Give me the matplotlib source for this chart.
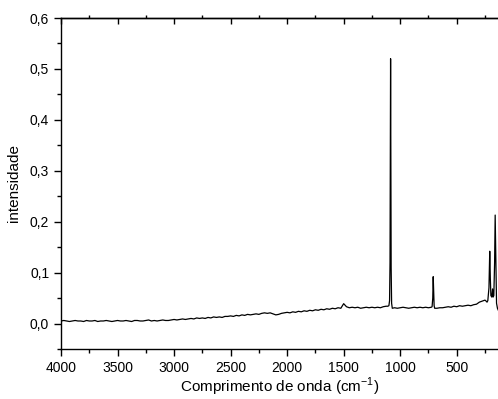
import matplotlib
matplotlib.use('Agg')
import matplotlib.pyplot as plt
import numpy as np
from matplotlib.ticker import MultipleLocator, FuncFormatter

# baseline, in 1e-3 intensity units, 25 cm-1 steps
BASE_A = [5, 6, 5, 4, 5, 6, 5, 5, 4, 6, 5, 5, 6, 4, 5, 5, 6, 5, 4, 5]            # 4000 -> 3525
BASE_B = [6, 5, 5, 6, 5, 4, 6, 6, 5, 5, 6, 7, 5, 6, 5, 6, 7, 6, 6, 7]            # 3500 -> 3025
BASE_C = [8, 7, 8, 9, 8, 9, 10, 9, 11, 10, 11, 10, 12, 11, 13, 12, 13, 12, 14, 14]  # 3000 -> 2525
BASE_D = [15, 14, 16, 15, 17, 16, 18, 17, 18, 19, 18, 20, 21, 20, 21, 19, 17, 18, 20, 21]  # 2500 -> 2025
BASE_E = [22, 21, 23, 22, 24, 23, 25, 24, 26, 25, 27, 26, 28, 27, 29, 28, 30, 29, 31, 30]  # 2000 -> 1525
BASE_F = [39, 33, 31, 32, 31, 32, 30, 31, 32, 31, 32, 31, 32, 31, 33, 34]        # 1500 -> 1125
PEAK1_W = [1110, 1100, 1094, 1090, 1087, 1085, 1083, 1080, 1076, 1070]
PEAK1_I = [34, 35, 45, 120, 380, 520, 380, 110, 40, 30]
BASE_G = [31, 30, 31, 32, 31, 30, 31, 32, 31, 32, 31, 32, 31, 32]                # 1050 -> 725
PEAK2_W = [718, 712, 708, 704, 700, 695]
PEAK2_I = [33, 50, 92, 60, 35, 30]
BASE_H = [30, 31, 31, 32, 33, 32, 34, 33, 35, 34, 35, 36, 35, 37, 38, 42, 44]    # 675 -> 275
TAIL_W = [260, 250, 240, 232, 225, 215, 208, 203, 198, 190, 183, 178, 172, 165, 160, 155, 148, 140, 130]
TAIL_I = [45, 46, 44, 42, 45, 70, 142, 90, 55, 52, 68, 52, 55, 120, 213, 140, 40, 30, 25]


def build():
    w, y = [], []
    for start, vals in ((4000, BASE_A), (3500, BASE_B), (3000, BASE_C),
                        (2500, BASE_D), (2000, BASE_E), (1500, BASE_F)):
        w += list(start - 25 * np.arange(len(vals)))
        y += vals
    w += PEAK1_W; y += PEAK1_I
    w += list(1050 - 25 * np.arange(len(BASE_G))); y += BASE_G
    w += PEAK2_W; y += PEAK2_I
    w += list(675 - 25 * np.arange(len(BASE_H))); y += BASE_H
    w += TAIL_W; y += TAIL_I
    return np.array(w, float), np.array(y, float) / 1000


def main():
    plt.rcParams.update({'font.family': ['Liberation Sans', 'DejaVu Sans'],
                         'font.size': 10, 'mathtext.fontset': 'custom',
                         'mathtext.rm': 'Liberation Sans'})
    fig = plt.figure(figsize=(4.98, 3.99), dpi=100)
    ax = fig.add_axes([61 / 498, 1 - 349 / 399, 1 - 61 / 498, (349 - 18) / 399])
    w, y = build()
    ax.plot(w, y, color='black', lw=0.9)

    ax.set_xlim(4000, 135)
    ax.set_ylim(-0.05, 0.6)
    ax.xaxis.set_major_locator(MultipleLocator(500))
    ax.xaxis.set_minor_locator(MultipleLocator(250))
    ax.yaxis.set_major_locator(MultipleLocator(0.1))
    ax.yaxis.set_minor_locator(MultipleLocator(0.05))
    ax.yaxis.set_major_formatter(FuncFormatter(lambda v, p: f'{v:.1f}'.replace('.', ',')))
    ax.tick_params(which='major', direction='out', length=5, width=1, colors='black')
    ax.tick_params(which='minor', direction='out', length=3, width=1)
    ax.spines['right'].set_visible(False)
    for s in ('left', 'bottom', 'top'):
        ax.spines[s].set_linewidth(1.0)

    top = ax.secondary_xaxis('top')
    top.xaxis.set_major_locator(MultipleLocator(500))
    top.xaxis.set_minor_locator(MultipleLocator(250))
    top.tick_params(which='major', direction='in', length=4, width=1, labeltop=False)
    top.tick_params(which='minor', direction='out', length=2.5, width=1)
    top.spines['top'].set_linewidth(1.0)

    ax.set_xlabel('Comprimento de onda (cm$^{\\mathrm{-1}}$)', fontsize=11, labelpad=1)
    ax.set_ylabel('intensidade', fontsize=11, labelpad=6)
    fig.savefig('out.png', dpi=100)
    plt.close(fig)


if __name__ == '__main__':
    main()
